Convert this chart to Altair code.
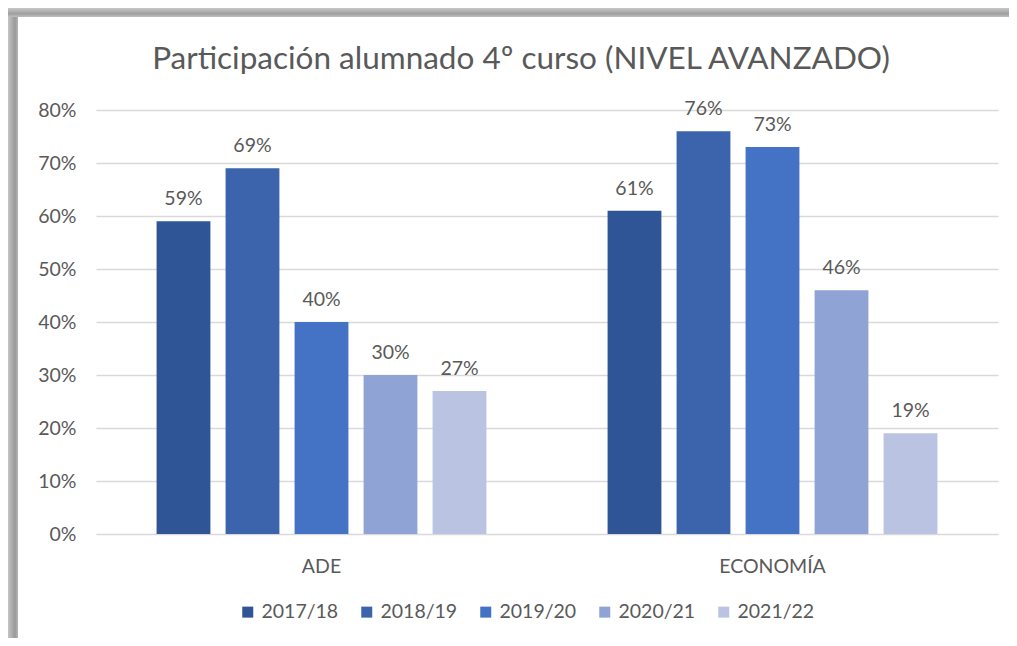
import altair as alt
import pandas as pd

categories = ["ADE", "ECONOMÍA"]
years = ["2017/18", "2018/19", "2019/20", "2020/21", "2021/22"]
ade_values = [59, 69, 40, 30, 27]
economia_values = [61, 76, 73, 46, 19]
colors = ["#2F5597", "#3B64AD", "#4472C4", "#8FA4D4", "#BAC4E2"]
y_ticks = [0, 10, 20, 30, 40, 50, 60, 70, 80]
title_text = "Participación alumnado 4º curso (NIVEL AVANZADO)"

rows = []
for cat, vals in zip(categories, [ade_values, economia_values]):
    for yr, v in zip(years, vals):
        rows.append({"grupo": cat, "curso": yr, "valor": v, "etiqueta": f"{v}%"})
df = pd.DataFrame(rows)

FONT = "Lato"
GREY = "#595959"

x_enc = alt.X("grupo:N", sort=categories,
              scale=alt.Scale(paddingInner=0.235, paddingOuter=0.1175),
              axis=alt.Axis(title=None, labelAngle=0, domain=False, ticks=False,
                            tickSize=0, labelPadding=38, labelBaseline="alphabetic",
                            labelFont=FONT, labelFontSize=19.5, labelColor=GREY))
xo_enc = alt.XOffset("curso:N", sort=years,
                     scale=alt.Scale(paddingInner=0.22, paddingOuter=0.11))
y_enc = alt.Y("valor:Q", scale=alt.Scale(domain=[0, 80], nice=False),
              axis=alt.Axis(title=None, values=y_ticks, domain=False, ticks=False,
                            tickSize=0, labelPadding=20, labelExpr="datum.value + '%'",
                            labelFont=FONT, labelFontSize=19.5, labelColor=GREY,
                            gridColor="#D9D9D9", gridWidth=1.5))

base = alt.Chart(df)

bars = base.mark_bar().encode(
    x=x_enc,
    xOffset=xo_enc,
    y=y_enc,
    color=alt.Color("curso:N", sort=years,
                    scale=alt.Scale(domain=years, range=colors),
                    legend=alt.Legend(title=None, orient="none", direction="horizontal",
                                      legendX=142, legendY=492,
                                      symbolType="square", symbolSize=121,
                                      symbolStrokeWidth=0, symbolOpacity=1,
                                      labelFont=FONT, labelFontSize=19.5,
                                      labelColor=GREY, labelOffset=4,
                                      columnPadding=18)),
)

labels = base.mark_text(font=FONT, fontSize=19.5, color=GREY,
                        baseline="alphabetic", dy=-16).encode(
    x=alt.X("grupo:N", sort=categories),
    xOffset=alt.XOffset("curso:N", sort=years),
    y="valor:Q",
    text="etiqueta:N",
)

title_df = pd.DataFrame({"t": [title_text]})
title = alt.Chart(title_df).mark_text(
    font=FONT, fontSize=31.5, color=GREY, align="center", baseline="alphabetic"
).encode(x=alt.value(425), y=alt.value(-41), text="t:N")

frame_df = pd.DataFrame({"k": [0]})
left_band = alt.Chart(frame_df).mark_rect(
    fill=alt.Gradient(gradient="linear", x1=0, x2=1, y1=0, y2=0,
                      stops=[alt.GradientStop(color="#C4C4C4", offset=0),
                             alt.GradientStop(color="#9A9A9A", offset=0.7),
                             alt.GradientStop(color="#B5B5B5", offset=1)])
).encode(x=alt.value(-88), x2=alt.value(-78), y=alt.value(-102), y2=alt.value(528))
top_band = alt.Chart(frame_df).mark_rect(
    fill=alt.Gradient(gradient="linear", x1=0, x2=0, y1=0, y2=1,
                      stops=[alt.GradientStop(color="#C8C8C8", offset=0),
                             alt.GradientStop(color="#9E9E9E", offset=0.65),
                             alt.GradientStop(color="#C0C0C0", offset=1)])
).encode(x=alt.value(-88), x2=alt.value(913), y=alt.value(-102), y2=alt.value(-93))

chart = alt.layer(bars, labels, title, left_band, top_band).properties(
    width=902, height=424,
    autosize=alt.AutoSizeParams(type="none"),
    padding={"left": 88, "top": 102, "right": 11, "bottom": 104},
    background="white",
).configure_view(stroke=None)

chart.save("out.html", embed_options={"renderer": "svg", "actions": False})
